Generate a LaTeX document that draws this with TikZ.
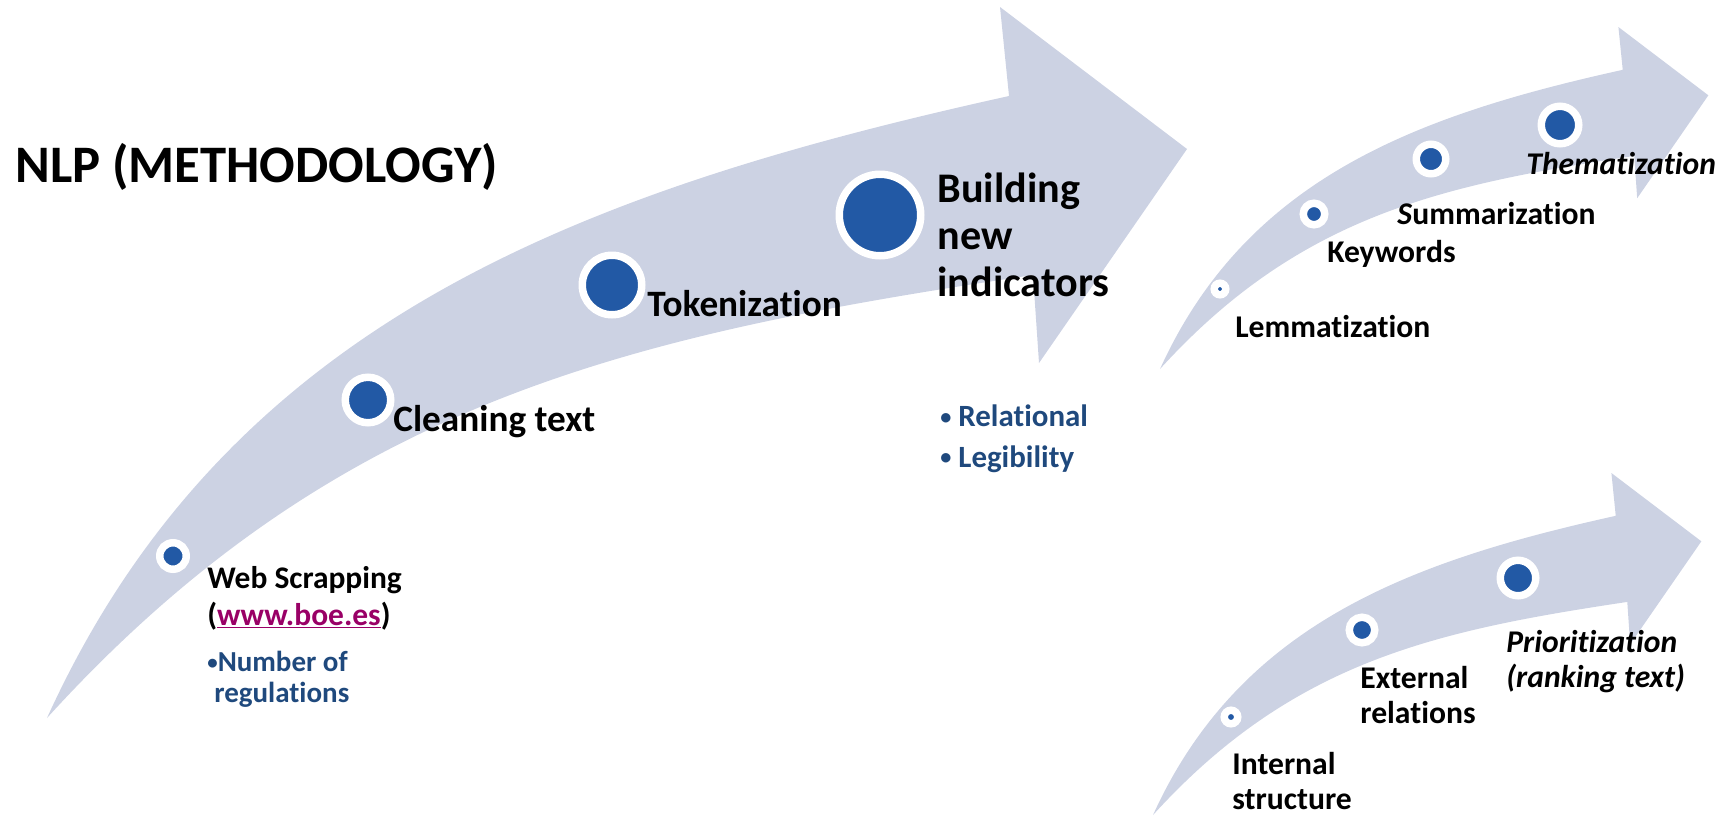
\documentclass[tikz,border=0pt]{standalone}
\usepackage{fontspec}
\setmainfont{Carlito}[Ligatures=NoCommon]
\usepackage{xcolor}
\usepackage{tikz}
\usetikzlibrary{positioning}

\definecolor{bandgray}{RGB}{204,210,227}
\definecolor{dotblue}{RGB}{34,89,165}
\definecolor{bulletblue}{RGB}{31,73,125}
\definecolor{linkmagenta}{RGB}{153,0,102}

\newcommand{\smallbullet}{\raisebox{0.08em}{\scalebox{0.72}{\textbullet}}}

\begin{document}
\begin{tikzpicture}[
    x=0.02cm, y=-0.02cm,
    stopdot/.style={circle, fill=dotblue, draw=white, line width=0.15cm, inner sep=0pt, minimum size=#1},
    steplbl/.style={anchor=base west, inner sep=0pt, align=left, font=\fontsize{21.2}{24}\selectfont\bfseries},
    sublbl/.style={anchor=base west, inner sep=0pt, align=left, font=\fontsize{18}{19.9}\selectfont\bfseries},
    bulletlbl/.style={sublbl, text=bulletblue},
    % curved arrow, tail at the origin
    curvedarrow/.pic={
        \fill[bandgray] (0,0) .. controls (180,-396) and (532,-527) .. (962,-622)
            -- (953,-711) -- (1140,-569) -- (992,-355) -- (986,-443)
            .. controls (586,-383) and (290,-319) .. cycle;
    }
]
\useasboundingbox (0,0) rectangle (1733,815);

% arrows
\pic at (47,718) {curvedarrow};
\pic[scale=0.481] at (1160,369) {curvedarrow};
\pic[scale=0.481] at (1153,815) {curvedarrow};

\node[anchor=base west, inner sep=0pt, font=\fontsize{30}{36}\selectfont\bfseries] (title) at (15,182) {NLP (METHODOLOGY)};

% main flow (multi-line labels sit on their last baseline)
\node[stopdot=0.53cm] (web) at (173,556) {};
\node[stopdot=0.91cm] (clean) at (368,400) {};
\node[stopdot=1.19cm] (token) at (612,285) {};
\node[stopdot=1.63cm] (build) at (880,215) {};

\node[sublbl, font=\fontsize{17.9}{20.5}\selectfont\bfseries] (weblbl) at (207,625)
    {Web Scrapping\\(\textcolor{linkmagenta}{\underline{www.boe.es}})};
\node[bulletlbl, font=\fontsize{16.5}{17.1}\selectfont\bfseries] (regs) at (207,702)
    {\smallbullet Number of\\\hspace*{4pt}regulations};
\node[steplbl] (cleanlbl) at (393,431) {Cleaning text};
\node[steplbl] (tokenlbl) at (647,316) {Tokenization};
\node[steplbl, font=\fontsize{24}{26.7}\selectfont\bfseries] (buildlbl) at (937,296) {Building\\new\\indicators};
\node[bulletlbl, font=\fontsize{17.6}{22.8}\selectfont\bfseries] (indic) at (940,467)
    {\smallbullet\ Relational\\\smallbullet\ Legibility};

% text processing
\node[stopdot=0.23cm] (lemma) at (1220,289) {};
\node[stopdot=0.43cm] (keyw) at (1314,214) {};
\node[stopdot=0.59cm] (summ) at (1431,159) {};
\node[stopdot=0.75cm] (them) at (1560,125) {};

\node[sublbl] (lemmalbl) at (1235,337) {Lemmatization};
\node[sublbl] (keywlbl) at (1327,262) {Keywords};
\node[sublbl] (summlbl) at (1397,224) {\textit{S}ummarization};
\node[sublbl] (themlbl) at (1526,174) {\textit{Thematization}};

% structure and ranking
\node[stopdot=0.27cm] (intl) at (1231,717) {};
\node[stopdot=0.51cm] (extl) at (1362,630) {};
\node[stopdot=0.71cm] (prio) at (1518,578) {};

\node[sublbl] (intllbl) at (1232,809) {Internal\\structure};
\node[sublbl] (extllbl) at (1360,723) {External\\relations};
\node[sublbl, font=\fontsize{18}{19.9}\selectfont\bfseries\itshape] (priolbl) at (1506,687) {Prioritization\\(ranking text)};
\end{tikzpicture}
\end{document}
